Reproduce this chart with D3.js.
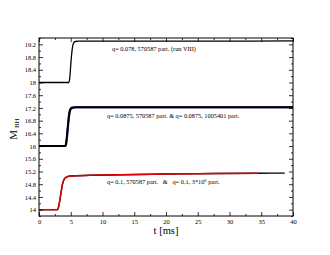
<!DOCTYPE html>
<html><head><meta charset="utf-8">
<script src="https://cdn.jsdelivr.net/npm/d3@7"></script>
<style>body{margin:0;background:#fff}svg{display:block}text{font-family:"Liberation Serif","DejaVu Serif",serif}</style>
</head><body>
<svg id="c" width="330" height="255"></svg>
<script>
// data
const xTicks = [0,5,10,15,20,25,30,35,40];
const yTicks = [14,14.4,14.8,15.2,15.6,16,16.4,16.8,17.2,17.6,18,18.4,18.8,19.2];
const tA = [0,4.7,4.85,5.0,5.2,5.4,5.7,6.2,10,20,30,40];
const mA = [18,18,18.15,18.55,19.0,19.22,19.29,19.3,19.3,19.3,19.3,19.31];
const tBblue = [0,4.2,4.35,4.55,4.75,4.95,5.25,5.9,40];
const mBblue = [16,16,16.15,16.55,16.95,17.14,17.2,17.22,17.22];
const tB = [0,4.15,4.3,4.5,4.7,4.9,5.2,5.8,40];
const mB = [16,16,16.15,16.55,16.95,17.15,17.21,17.22,17.22];
const tD = [0,2.9,3.1,3.4,3.7,4.0,4.4,5,8,13,20,28,34.6,38.7];
const mD = [14,14,14.1,14.45,14.8,14.97,15.03,15.06,15.08,15.1,15.12,15.135,15.145,15.15];
const tC = [0,2.9,3.1,3.4,3.7,4.0,4.4,5,8,13,20,28,34.6];
const mC = [14,14,14.1,14.45,14.8,14.97,15.03,15.06,15.08,15.1,15.12,15.135,15.145];
const labels = ["q= 0.078, 570587 part. (run VIII)",
  "q= 0.0875, 570587 part.  &  q= 0.0875, 1005401 part."];

const svg = d3.select("#c");
const x = d3.scaleLinear().domain([0,40]).range([39,293]);
const y = d3.scaleLinear().domain([13.8,19.4]).range([216,38]);

const line = d3.line().x(d=>x(d[0])).y(d=>y(d[1])).curve(d3.curveMonotoneX);
function draw(ts, ms, color, w){
  svg.append("path").datum(d3.zip(ts,ms)).attr("d",line)
    .attr("fill","none").attr("stroke",color).attr("stroke-width",w);
}
draw(tA,mA,"#000",1.3);
draw(tBblue,mBblue,"#1a1aa0",2);
draw(tB,mB,"#000",2);
draw(tD,mD,"#000",1.4);
draw(tC,mC,"#e00000",1.5);

// axes
const minorX = d3.range(0,40.01,2.5).filter(v=>v%5!==0);
const minorY = d3.range(13.8,19.41,0.2).map(v=>+v.toFixed(1)).filter(v=>!yTicks.includes(v));
function ax(gen, tr, vals, size, lab){
  const a = gen.tickValues(vals).tickSize(size).tickPadding(3);
  if(!lab) a.tickFormat("");
  else a.tickFormat(d=>String(d));
  const g = svg.append("g").attr("transform",tr).call(a);
  g.select(".domain").remove();
  g.selectAll("line").attr("stroke","#000").attr("stroke-width",0.8);
  g.selectAll("text").attr("font-size","6.5px").attr("font-family","Liberation Serif").attr("fill","#000");
  return g;
}
ax(d3.axisBottom(x),"translate(0,216)",xTicks,-4,true);
ax(d3.axisBottom(x),"translate(0,216)",minorX,-2,false);
ax(d3.axisTop(x),"translate(0,38)",xTicks,-4,false);
ax(d3.axisTop(x),"translate(0,38)",minorX,-2,false);
ax(d3.axisLeft(y),"translate(39,0)",yTicks,-4,true);
ax(d3.axisLeft(y),"translate(39,0)",minorY,-2,false);
ax(d3.axisRight(y),"translate(293,0)",yTicks,-4,false);
ax(d3.axisRight(y),"translate(293,0)",minorY,-2,false);

svg.append("rect").attr("x",39).attr("y",38).attr("width",254).attr("height",178)
  .attr("fill","none").attr("stroke","#000").attr("stroke-width",1);

// labels
svg.append("text").attr("x",112).attr("y",51).attr("font-size","6.3px").text(labels[0]);
svg.append("text").attr("x",107).attr("y",118).attr("font-size","6.3px").text(labels[1]);
const t3 = svg.append("text").attr("x",107).attr("y",184).attr("font-size","6.3px");
t3.append("tspan").text("q= 0.1, 570587 part.\u00a0\u00a0 &\u00a0\u00a0 q= 0.1, 3*10");
t3.append("tspan").attr("dy",-2.5).attr("font-size","4.5px").text("6");
t3.append("tspan").attr("dy",2.5).text(" part.");

svg.append("text").attr("x",166).attr("y",234).attr("text-anchor","middle").attr("font-size","10.5px").text("t [ms]");
const yl = svg.append("text").attr("transform","translate(17,129) rotate(-90)").attr("text-anchor","middle");
yl.append("tspan").attr("font-size","11px").text("M");
yl.append("tspan").attr("font-size","7px").attr("dy",1.5).text(" BH");
</script>
</body></html>
